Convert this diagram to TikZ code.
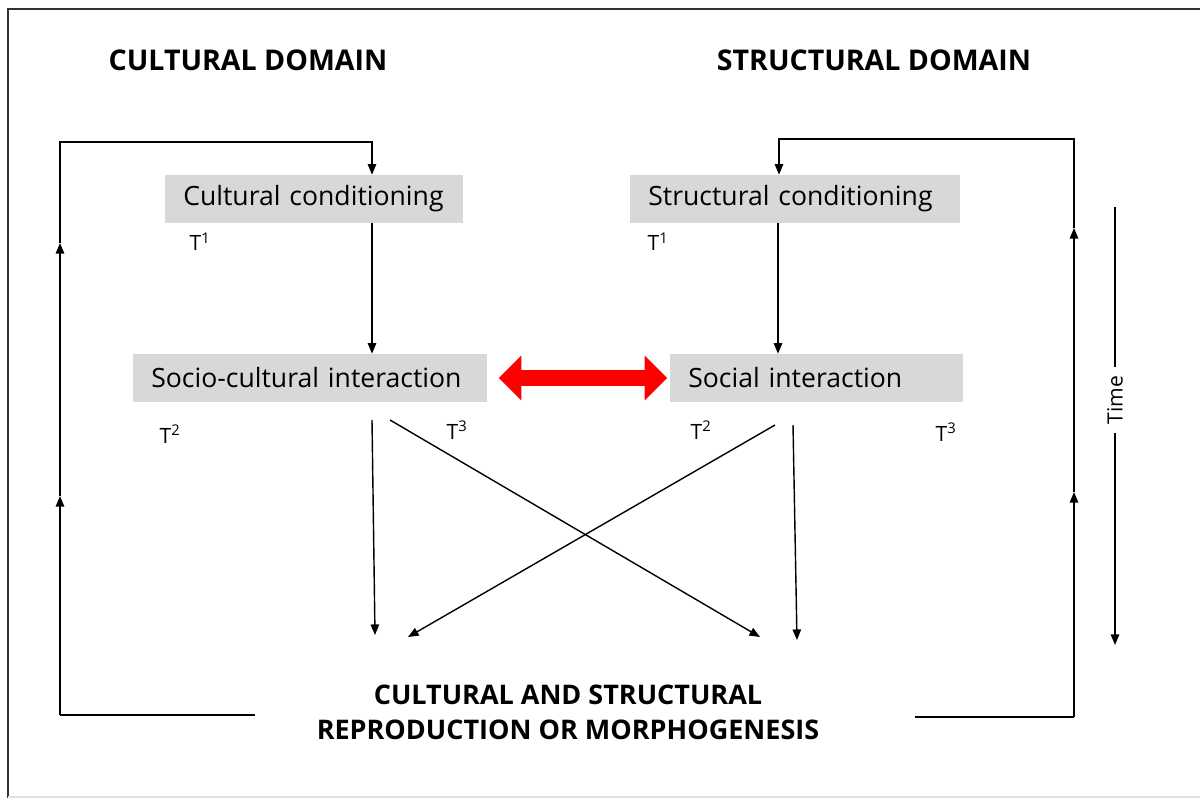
\documentclass[tikz,border=0pt]{standalone}
\usepackage{fontspec}
\setmainfont{Open Sans}
\usetikzlibrary{arrows.meta}
\definecolor{boxgray}{RGB}{216,216,216}
\definecolor{framegray}{RGB}{50,50,50}
\begin{document}
\begin{tikzpicture}[x=0.025cm,y=-0.025cm,
  stage/.style={anchor=west, fill=boxgray, align=left, inner xsep=0.45cm,
    minimum height=1.2cm, font=\fontsize{18.9}{21}\selectfont},
  heading/.style={font=\bfseries\fontsize{20.3}{22}\selectfont},
  tlabel/.style={font=\fontsize{15}{17}\selectfont, inner sep=0pt},
  flow/.style={line width=1pt, -{Triangle[length=7.5pt,width=6pt]}},
  plain/.style={line width=1pt},
  link/.style={line width=11pt, red, {Triangle[length=16pt,width=31pt]}-{Triangle[length=16pt,width=31pt]}}]
\useasboundingbox (0,0) rectangle (1200,800);

% outer frame
\draw[framegray, line width=2pt] (8,798) -- (8,9) -- (1200,9);
\draw[black!12, line width=1pt] (8,797) -- (1200,797);

% domain headings
\node[heading] (hc) at (248,60) {CULTURAL DOMAIN};
\node[heading] (hs) at (874,60) {STRUCTURAL DOMAIN};

% stage boxes
\node[stage, text width=6.55cm] (cc) at (165,199) {Cultural conditioning};
\node[stage, text width=7.35cm] (sc) at (630,199) {Structural conditioning};
\node[stage, text width=7.95cm] (sci) at (133,378) {Socio-cultural interaction};
\node[stage, text width=6.425cm] (si) at (670,378) {Social interaction};

% time stamps
\node[tlabel] (t1a) at (200,242) {T\textsuperscript{1}};
\node[tlabel] (t1b) at (658,242) {T\textsuperscript{1}};
\node[tlabel] (t2a) at (170,434) {T\textsuperscript{2}};
\node[tlabel] (t3a) at (457,430) {T\textsuperscript{3}};
\node[tlabel] (t2b) at (701,430) {T\textsuperscript{2}};
\node[tlabel] (t3b) at (946,432) {T\textsuperscript{3}};

% outcome
\node[heading, align=center, font=\bfseries\fontsize{19.2}{25}\selectfont] (out) at (568,712)
  {CULTURAL AND STRUCTURAL\\REPRODUCTION OR MORPHOGENESIS};

% conditioning to interaction
\draw[flow] (cc.south -| 372,0) -- (sci.north -| 372,0);
\draw[flow] (sc.south -| 778,0) -- (si.north -| 778,0);

% red link between the interaction boxes
\draw[link] ([xshift=8pt]sci.east) -- ([xshift=-2pt]si.west);

% interaction to outcome
\coordinate (a1) at (372,420);
\coordinate (a2) at (390,420);
\coordinate (b1) at (775,425);
\coordinate (b2) at (793,425);
\coordinate (e1) at (375,635);
\coordinate (e2) at (760,637);
\coordinate (e3) at (408,637);
\coordinate (e4) at (797,640);
\draw[flow] (a1) -- (e1);
\draw[flow] (a2) -- (e2);
\draw[flow] (b1) -- (e3);
\draw[flow] (b2) -- (e4);

% cultural feedback loop
\coordinate (l0) at (255,715);
\coordinate (l1) at (60,715);
\coordinate (l2) at (60,496);
\coordinate (l3) at (60,243);
\coordinate (l4) at (60,142);
\coordinate (l5) at (372,142);
\draw[plain] (l0) -- (l1);
\draw[flow] (l1) -- (l2);
\draw[flow] (l2) -- (l3);
\draw[flow] (l3) -- (l4) -- (l5) -- (cc.north -| l5);

% structural feedback loop
\coordinate (r0) at (915,717);
\coordinate (r1) at (1074,717);
\coordinate (r2) at (1074,492);
\coordinate (r3) at (1074,228);
\coordinate (r4) at (1074,139);
\coordinate (r5) at (779,139);
\draw[plain] (r0) -- (r1);
\draw[flow] (r1) -- (r2);
\draw[flow] (r2) -- (r3);
\draw[flow] (r3) -- (r4) -- (r5) -- (sc.north -| r5);

% time axis
\node[rotate=90, font=\fontsize{15}{17}\selectfont, inner xsep=6pt, inner ysep=1pt] (time) at (1115,400) {Time};
\coordinate (tt) at (1115,207);
\coordinate (tb) at (1115,645);
\draw[plain] (tt) -- (time.east);
\draw[flow] (time.west) -- (tb);
\end{tikzpicture}
\end{document}
